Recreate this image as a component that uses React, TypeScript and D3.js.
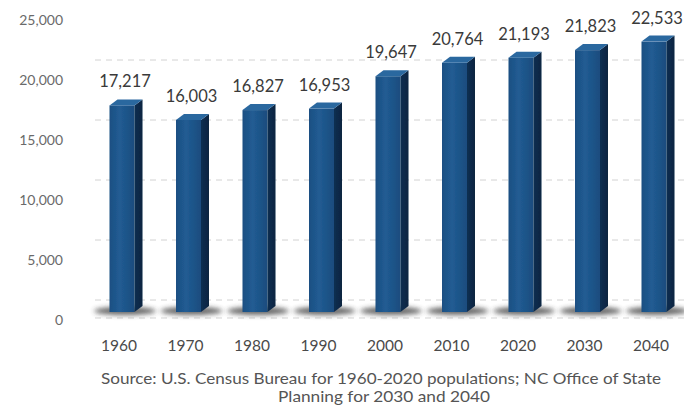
import React from "react";
import * as d3 from "d3";

const years = ["1960", "1970", "1980", "1990", "2000", "2010", "2020", "2030", "2040"];
const population = [17217, 16003, 16827, 16953, 19647, 20764, 21193, 21823, 22533];
const yTicks = [0, 5000, 10000, 15000, 20000, 25000];
const sourceLines = [
  "Source: U.S. Census Bureau for 1960-2020 populations; NC Office of State",
  "Planning for 2030 and 2040",
];

const W = 684;
const H = 415;
const FONT = "Lato, 'Open Sans', sans-serif";

export default function App() {
  const x = d3.scalePoint<string>().domain(years).range([122, 654]);
  const yFront = d3.scaleLinear().domain([0, 25000]).range([312, 12]);
  const yLabel = d3.scaleLinear().domain([0, 25000]).range([320, 20]);
  const yBack = d3.scaleLinear().domain([0, 25000]).range([300, 0]);
  const fmt = d3.format(",");
  const fw = 25;
  const dx = 8;
  const dy = 6;

  return (
    <svg width={W} height={H} style={{ position: "absolute", left: 0, top: 0, background: "#fff" }}>
      <defs>
        <linearGradient id="front" x1="0" x2="1" y1="0" y2="0">
          <stop offset="0" stopColor="#1c4f82" />
          <stop offset="0.4" stopColor="#215c93" />
          <stop offset="1" stopColor="#1a4c7e" />
        </linearGradient>
        <linearGradient id="side" x1="0" x2="1" y1="0" y2="0">
          <stop offset="0" stopColor="#112f52" />
          <stop offset="1" stopColor="#0c2440" />
        </linearGradient>
        <filter id="blur" x="-50%" y="-200%" width="200%" height="500%">
          <feGaussianBlur stdDeviation="2.5" />
        </filter>
        <filter id="soft">
          <feGaussianBlur stdDeviation="0.5" />
        </filter>
      </defs>
      {yTicks.slice(0, 5).map((t) => (
        <line
          key={"g" + t}
          x1={95}
          x2={684}
          y1={yBack(t)}
          y2={yBack(t)}
          stroke="#d2d2d2"
          strokeWidth={1}
          strokeDasharray="6 5"
        />
      ))}
      <line x1={95} x2={684} y1={318} y2={318} stroke="#d5d5d5" strokeDasharray="6 5" />
      {yTicks.map((t) => (
        <text
          key={"t" + t}
          x={63}
          y={yLabel(t)}
          dy="0.35em"
          textAnchor="end"
          fontFamily={FONT}
          fontSize={14}
          fill="#6a6a6a"
        >
          {fmt(t)}
        </text>
      ))}
      {years.map((yr, i) => {
        const xc = x(yr) as number;
        const v = population[i];
        const x0 = xc - fw / 2;
        const x1 = xc + fw / 2;
        const yt = yFront(v);
        const yb = yFront(0);
        return (
          <g key={yr}>
            <ellipse cx={xc + 3} cy={yb - 1} rx={31} ry={4} fill="#333" opacity={0.75} filter="url(#blur)" />
            <g filter="url(#soft)">
              <rect x={x0} y={yt} width={fw} height={yb - yt} fill="url(#front)" />
              <path
                d={`M${x1},${yt} L${x1 + dx},${yt - dy} L${x1 + dx},${yb - dy} L${x1},${yb} Z`}
                fill="url(#side)"
              />
              <path
                d={`M${x0},${yt} L${x0 + dx},${yt - dy} L${x1 + dx},${yt - dy} L${x1},${yt} Z`}
                fill="#2a679f"
              />
            </g>
            <text
              x={xc + 3}
              y={yt - dy - 12}
              textAnchor="middle"
              fontFamily={FONT}
              fontSize={16.5}
              fill="#3a3a3a"
            >
              {fmt(v)}
            </text>
            <text
              x={xc - 3}
              y={351}
              textAnchor="middle"
              fontFamily={FONT}
              fontSize={15.5}
              fill="#4a4a4a"
            >
              {yr}
            </text>
          </g>
        );
      })}
      <text
        x={381}
        y={384}
        textAnchor="middle"
        fontFamily={FONT}
        fontSize={15}
        fill="#555"
        textLength={560}
        lengthAdjust="spacingAndGlyphs"
      >
        {sourceLines[0]}
      </text>
      <text
        x={384}
        y={402}
        textAnchor="middle"
        fontFamily={FONT}
        fontSize={15}
        fill="#555"
        textLength={212}
        lengthAdjust="spacingAndGlyphs"
      >
        {sourceLines[1]}
      </text>
    </svg>
  );
}
